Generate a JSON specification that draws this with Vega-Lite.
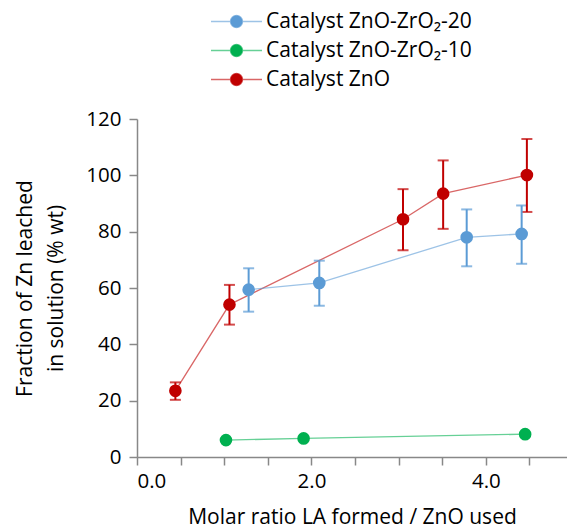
{
  "$schema": "https://vega.github.io/schema/vega-lite/v6.json",
  "width": 430,
  "height": 338,
  "autosize": {"type": "none"},
  "padding": {"left": 137, "top": 119, "right": 0, "bottom": 71},
  "background": "white",
  "config": {
    "view": {"stroke": null},
    "font": "Open Sans",
    "axis": {
      "grid": false,
      "domainColor": "#888888",
      "domainWidth": 1.5,
      "tickColor": "#888888",
      "tickWidth": 1.5,
      "tickSize": 8,
      "labelFont": "Open Sans",
      "labelFontSize": 20.5,
      "labelColor": "#000000",
      "titleFont": "Open Sans",
      "titleFontSize": 21,
      "titleFontWeight": "normal",
      "titleColor": "#000000"
    }
  },
  "data": {
    "values": [
      {"series": "Catalyst ZnO", "x": 0.44, "y": 23.5, "lo": 20.3, "hi": 26.5},
      {"series": "Catalyst ZnO", "x": 1.06, "y": 54.1, "lo": 47.0, "hi": 61.1},
      {"series": "Catalyst ZnO", "x": 3.05, "y": 84.4, "lo": 73.4, "hi": 95.1},
      {"series": "Catalyst ZnO", "x": 3.51, "y": 93.5, "lo": 81.0, "hi": 105.3},
      {"series": "Catalyst ZnO", "x": 4.47, "y": 100.1, "lo": 87.0, "hi": 112.9},
      {"series": "Catalyst ZnO-ZrO₂-20", "x": 1.28, "y": 59.4, "lo": 51.6, "hi": 67.0},
      {"series": "Catalyst ZnO-ZrO₂-20", "x": 2.09, "y": 61.8, "lo": 53.7, "hi": 69.7},
      {"series": "Catalyst ZnO-ZrO₂-20", "x": 3.78, "y": 78.0, "lo": 67.7, "hi": 87.9},
      {"series": "Catalyst ZnO-ZrO₂-20", "x": 4.41, "y": 79.2, "lo": 68.6, "hi": 89.3},
      {"series": "Catalyst ZnO-ZrO₂-10", "x": 1.02, "y": 6.0, "lo": null, "hi": null},
      {"series": "Catalyst ZnO-ZrO₂-10", "x": 1.91, "y": 6.6, "lo": null, "hi": null},
      {"series": "Catalyst ZnO-ZrO₂-10", "x": 4.45, "y": 8.1, "lo": null, "hi": null}
    ]
  },
  "encoding": {
    "x": {
      "field": "x",
      "type": "quantitative",
      "scale": {"domain": [0, 4.93], "nice": false, "zero": false},
      "axis": {
        "title": "Molar ratio LA formed / ZnO used",
        "values": [0, 0.5, 1, 1.5, 2, 2.5, 3, 3.5, 4, 4.5],
        "labelExpr": "(datum.value % 2 === 0) ? format(datum.value, '.1f') : ''",
        "labelPadding": 6,
        "titleY": 66,
        "titleBaseline": "alphabetic"
      }
    },
    "color": {
      "field": "series",
      "type": "nominal",
      "scale": {
        "domain": ["Catalyst ZnO-ZrO₂-20", "Catalyst ZnO-ZrO₂-10", "Catalyst ZnO"],
        "range": ["#5B9BD5", "#00B050", "#C00000"]
      },
      "legend": {
        "title": null,
        "orient": "none",
        "legendX": 89,
        "legendY": -108,
        "symbolType": "M-4.25,0H-1M1,0H4.25M1,0A1,1 0 1,1 -1,0A1,1 0 1,1 1,0Z",
        "symbolSize": 144,
        "symbolStrokeWidth": 1.5,
        "labelFont": "Open Sans",
        "labelFontSize": 21,
        "labelColor": "#000000",
        "labelOffset": 19,
        "rowPadding": 7,
        "labelLimit": 400,
        "encode": {
          "symbols": {
            "update": {
              "fill": {"scale": "color", "field": "value"},
              "stroke": {"scale": "color", "field": "value"},
              "opacity": {"value": 1},
              "fillOpacity": {"value": 1},
              "strokeOpacity": {"value": 0.6}
            }
          }
        }
      }
    }
  },
  "layer": [
    {
      "mark": {"type": "line", "strokeWidth": 1.3, "opacity": 0.6},
      "encoding": {
        "y": {
          "field": "y",
          "type": "quantitative",
          "title": ["Fraction of Zn leached", "in solution (% wt)"],
          "scale": {"domain": [0, 120], "nice": false},
          "axis": {
            "values": [0, 20, 40, 60, 80, 100, 120],
            "labelPadding": 8,
            "titleAngle": -90,
            "titleX": -106,
            "titleY": 169,
            "titleAlign": "center",
            "titleBaseline": "alphabetic",
            "titleLineHeight": 31
          }
        },
        "order": {"field": "x", "type": "quantitative"}
      }
    },
    {
      "transform": [{"filter": "isValid(datum.lo)"}],
      "mark": {"type": "errorbar", "thickness": 2, "ticks": {"size": 11, "thickness": 2}},
      "encoding": {
        "y": {"field": "lo", "type": "quantitative", "title": ["Fraction of Zn leached", "in solution (% wt)"]},
        "y2": {"field": "hi"}
      }
    },
    {
      "mark": {"type": "point", "filled": true, "opacity": 1, "size": 160},
      "encoding": {
        "y": {"field": "y", "type": "quantitative", "title": ["Fraction of Zn leached", "in solution (% wt)"]}
      }
    }
  ]
}
